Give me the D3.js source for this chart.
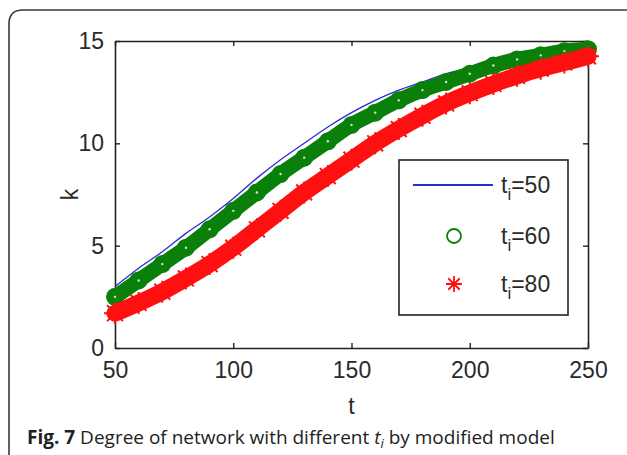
<!DOCTYPE html>
<html>
<head>
<meta charset="utf-8">
<script src="https://cdn.jsdelivr.net/npm/d3@7"></script>
<style>
  body { margin: 0; background: #fff; }
  svg { display: block; }
</style>
</head>
<body>
<div id="chart"></div>
<script>
// Degree k over time t for three values of t_i

const tValues = [50, 60, 70, 80, 90, 100, 110, 120, 130, 140, 150,
                 160, 170, 180, 190, 200, 210, 220, 230, 240, 250];
const k50 = [3.0, 3.9, 4.7, 5.6, 6.4, 7.3, 8.3, 9.2, 10.0, 10.8, 11.5,
             12.1, 12.6, 13.0, 13.4, 13.7, 14.0, 14.25, 14.45, 14.6, 14.7];
const k60 = [2.5, 3.3, 4.1, 4.9, 5.8, 6.7, 7.6, 8.5, 9.3, 10.1, 10.9,
             11.5, 12.1, 12.6, 13.0, 13.4, 13.8, 14.1, 14.3, 14.5, 14.6];
const k80 = [1.7, 2.2, 2.75, 3.4, 4.1, 4.9, 5.8, 6.7, 7.6, 8.4, 9.2,
             10.0, 10.7, 11.35, 11.95, 12.45, 12.9, 13.3, 13.65, 13.95, 14.25];
const xTicks = [50, 100, 150, 200, 250];
const yTicks = [0, 5, 10, 15];
const legendLabels = ["50", "60", "80"];

const width = 627, height = 455;
const svg = d3.select("#chart").append("svg")
    .attr("width", width).attr("height", height);

// Frame round the figure and its caption
svg.append("path")
    .attr("d", "M9,470 L9,24 Q9,10 23,10 L640,10")
    .attr("fill", "none")
    .attr("stroke", "#3a3a3a")
    .attr("stroke-width", 1.6);

// Plot box
let box = { left: 115, right: 588, top: 41, bottom: 348 };

let x = d3.scaleLinear().domain([50, 250]).range([box.left, box.right]);
let y = d3.scaleLinear().domain([0, 15]).range([box.bottom, box.top]);

const font = "'Liberation Sans', Arial, sans-serif";
const tickLen = 5;

// Axes with inward ticks, Matlab style (box on)
svg.append("g")
    .attr("transform", "translate(0," + box.bottom + ")")
    .call(d3.axisBottom(x).tickValues(xTicks).tickSizeInner(-tickLen).tickSizeOuter(0).tickPadding(14));
svg.append("g")
    .attr("transform", "translate(0," + box.top + ")")
    .call(d3.axisTop(x).tickValues(xTicks).tickSizeInner(-tickLen).tickSizeOuter(0).tickFormat(""));
svg.append("g")
    .attr("transform", "translate(" + box.left + ",0)")
    .call(d3.axisLeft(y).tickValues(yTicks).tickSizeInner(-tickLen).tickSizeOuter(0).tickPadding(11));
svg.append("g")
    .attr("transform", "translate(" + box.right + ",0)")
    .call(d3.axisRight(y).tickValues(yTicks).tickSizeInner(-tickLen).tickSizeOuter(0).tickFormat(""));

svg.selectAll(".domain").attr("stroke", "#222").attr("stroke-width", 1.6);
svg.selectAll(".tick line").attr("stroke", "#222").attr("stroke-width", 1.4);
svg.selectAll(".tick text")
    .style("font-family", font)
    .style("font-size", "23px")
    .attr("fill", "#2a2a2a");

// Axis titles
svg.append("text").text("t")
    .attr("x", (box.left + box.right) / 2).attr("y", 414)
    .attr("text-anchor", "middle")
    .style("font-family", font).style("font-size", "23px").attr("fill", "#2a2a2a");
svg.append("text").text("k")
    .attr("transform", "translate(78," + ((box.top + box.bottom) / 2) + ") rotate(-90)")
    .attr("text-anchor", "middle")
    .style("font-family", font).style("font-size", "23px").attr("fill", "#2a2a2a");

// Series
let line = d3.line()
    .x(function(d, i) { return x(tValues[i]); })
    .y(function(d) { return y(d); })
    .curve(d3.curveMonotoneX);

const blue = "#2b2bd6", green = "#0a800a", red = "#ff1010";

// Asterisk marker: + and x overlaid
function star(r) {
    let a = r * 0.72;
    return "M" + (-r) + ",0L" + r + ",0M0," + (-r) + "L0," + r +
           "M" + (-a) + "," + (-a) + "L" + a + "," + a +
           "M" + (-a) + "," + a + "L" + a + "," + (-a);
}

let plot = svg.append("g");

plot.append("path").datum(k50)
    .attr("fill", "none").attr("stroke", blue).attr("stroke-width", 1.3)
    .attr("d", line);

// t_i = 60: dense circles forming a band
plot.append("path").datum(k60)
    .attr("fill", "none").attr("stroke", green).attr("stroke-width", 15)
    .attr("stroke-linecap", "round")
    .attr("d", line);
plot.selectAll(".c60").data(k60).enter().append("circle")
    .attr("cx", function(d, i) { return x(tValues[i]); })
    .attr("cy", function(d) { return y(d); })
    .attr("r", 8)
    .attr("fill", "none").attr("stroke", green).attr("stroke-width", 2);
plot.selectAll(".d60").data(k60).enter().append("circle")
    .attr("cx", function(d, i) { return x(tValues[i]); })
    .attr("cy", function(d) { return y(d); })
    .attr("r", 1.2)
    .attr("fill", "#cfe9cf");

// t_i = 80: dense stars forming a band
plot.append("path").datum(k80)
    .attr("fill", "none").attr("stroke", red).attr("stroke-width", 17)
    .attr("stroke-linecap", "round")
    .attr("d", line);
plot.selectAll(".s80").data(k80).enter().append("path")
    .attr("transform", function(d, i) { return "translate(" + x(tValues[i]) + "," + y(d) + ")"; })
    .attr("d", star(11))
    .attr("fill", "none").attr("stroke", red).attr("stroke-width", 2);

// Legend
let lg = { x: 399, y: 160, w: 169, h: 155 };
svg.append("rect")
    .attr("x", lg.x).attr("y", lg.y).attr("width", lg.w).attr("height", lg.h)
    .attr("fill", "#fff").attr("stroke", "#222").attr("stroke-width", 1.6);

let rows = [185, 236, 284];
svg.append("line")
    .attr("x1", 413).attr("x2", 493).attr("y1", rows[0]).attr("y2", rows[0])
    .attr("stroke", blue).attr("stroke-width", 2);
svg.append("circle")
    .attr("cx", 454).attr("cy", rows[1]).attr("r", 7)
    .attr("fill", "none").attr("stroke", green).attr("stroke-width", 1.8);
svg.append("path")
    .attr("transform", "translate(454," + rows[2] + ")")
    .attr("d", star(8))
    .attr("fill", "none").attr("stroke", red).attr("stroke-width", 1.8);

for (let i = 0; i < legendLabels.length; ++i) {
    let tx = svg.append("text")
        .attr("x", 501).attr("y", rows[i] + 8)
        .style("font-family", font).style("font-size", "23px").attr("fill", "#2a2a2a");
    tx.append("tspan").text("t");
    tx.append("tspan").text("i").attr("dy", 7).style("font-size", "17px");
    tx.append("tspan").text("=" + legendLabels[i]).attr("dy", -7);
}

// Caption
let cap = svg.append("text")
    .attr("x", 27).attr("y", 444)
    .style("font-family", "'Open Sans', sans-serif").style("font-size", "19px")
    .attr("fill", "#222");
cap.append("tspan").text("Fig. 7").style("font-weight", "bold");
cap.append("tspan").text(" Degree of network with different ");
cap.append("tspan").text("t").style("font-style", "italic");
cap.append("tspan").text("i").style("font-style", "italic").style("font-size", "13px").attr("dy", 4);
cap.append("tspan").text(" by modified model").attr("dy", -4);
</script>
</body>
</html>
